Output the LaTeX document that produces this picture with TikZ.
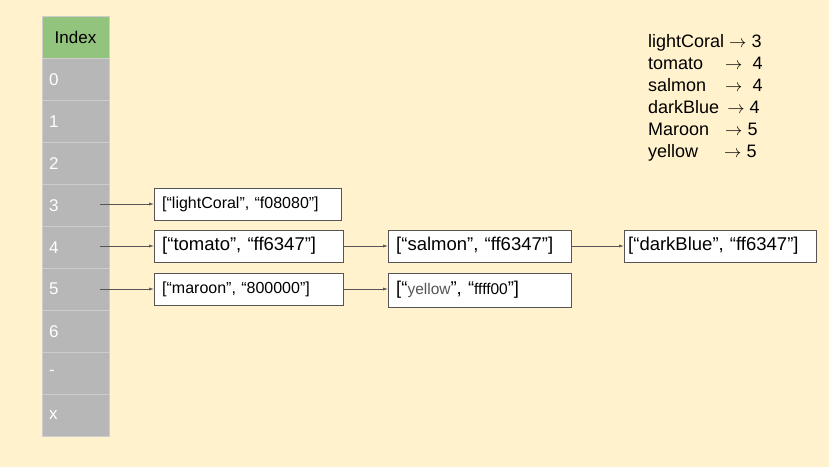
\documentclass[tikz,border=0pt]{standalone}
\usepackage{fontspec}
\setmainfont{Liberation Sans}
\usetikzlibrary{positioning,arrows.meta}
\definecolor{bgyellow}{HTML}{FFF2CC}
\definecolor{headgreen}{HTML}{93C47D}
\definecolor{cellgray}{HTML}{B7B7B7}
\definecolor{edgegray}{HTML}{555555}

\begin{document}
\begin{tikzpicture}[x=1pt, y=-1pt,
    cell/.style={draw=cellgray!70!white, fill=cellgray, minimum width=67pt, minimum height=42pt,
                 inner sep=0pt, text=white, font=\fontsize{17}{19}\selectfont},
    entry/.style={draw=edgegray, fill=white, minimum height=32pt, anchor=west,
                  text=black, inner xsep=8pt, inner ysep=0pt, align=left,
                  font=\fontsize{18.5}{21}\selectfont},
    small/.style={font=\fontsize{16}{18}\selectfont},
    link/.style={-{Latex[length=5pt,width=3pt]}, draw=edgegray, line width=0.6pt}
]
\fill[bgyellow] (0,0) rectangle (829,467);
\useasboundingbox (0,0) rectangle (829,467);

% index column
\node[cell, fill=headgreen, text=black] (head) at (75.5,37) {Index};
\foreach \lab [count=\i from 0] in {0,1,2,3,4,5,6,-,x}
  \node[cell, anchor=north] (r\i) at (75.5,58+42*\i) {\makebox[53pt][l]{\lab}};

% entries
\node[entry, small, text width=171pt] (coral) at (154,204) {[“lightCoral”, “f08080”]};
\node[entry, text width=173pt] (tomato) at (154,246) {[“tomato”, “ff6347”]};
\node[entry, text width=167pt] (salmon) at (388,246) {[“salmon”, “ff6347”]};
\node[entry, text width=184pt, inner xsep=4pt] (dblue) at (624,246) {[“darkBlue”, “ff6347”]};
\node[entry, small, text width=173pt] (maroon) at (154,289) {[“maroon”, “800000”]};
\node[entry, text width=167pt, minimum height=34pt] (yellow) at (388,290)
  {[“{\fontsize{15.5}{18}\selectfont\color{edgegray}yellow}”, “{\fontsize{15.5}{18}\selectfont ffff00}”]};

% links
\coordinate (c3) at (100,204);
\coordinate (c4) at (100,246);
\coordinate (c5) at (100,289);
\draw[link] (c3) -- (coral);
\draw[link] (c4) -- (tomato);
\draw[link] (c5) -- (maroon);
\draw[link] (tomato) -- (salmon);
\draw[link] (salmon) -- (dblue);
\draw[link] (maroon.east) -- (yellow.west |- maroon.east);

% legend
\node[anchor=north west, align=left, inner sep=0pt, font=\fontsize{18}{22}\selectfont] (legend) at (648,34)
  {lightCoral $\rightarrow$ 3\\
   tomato\hspace{22pt}$\rightarrow$\ \ 4\\
   salmon\hspace{19pt}$\rightarrow$\ \ 4\\
   darkBlue\hspace{8pt}$\rightarrow$ 4\\
   Maroon\hspace{16pt}$\rightarrow$ 5\\
   yellow\hspace{26pt}$\rightarrow$ 5};
\end{tikzpicture}
\end{document}
